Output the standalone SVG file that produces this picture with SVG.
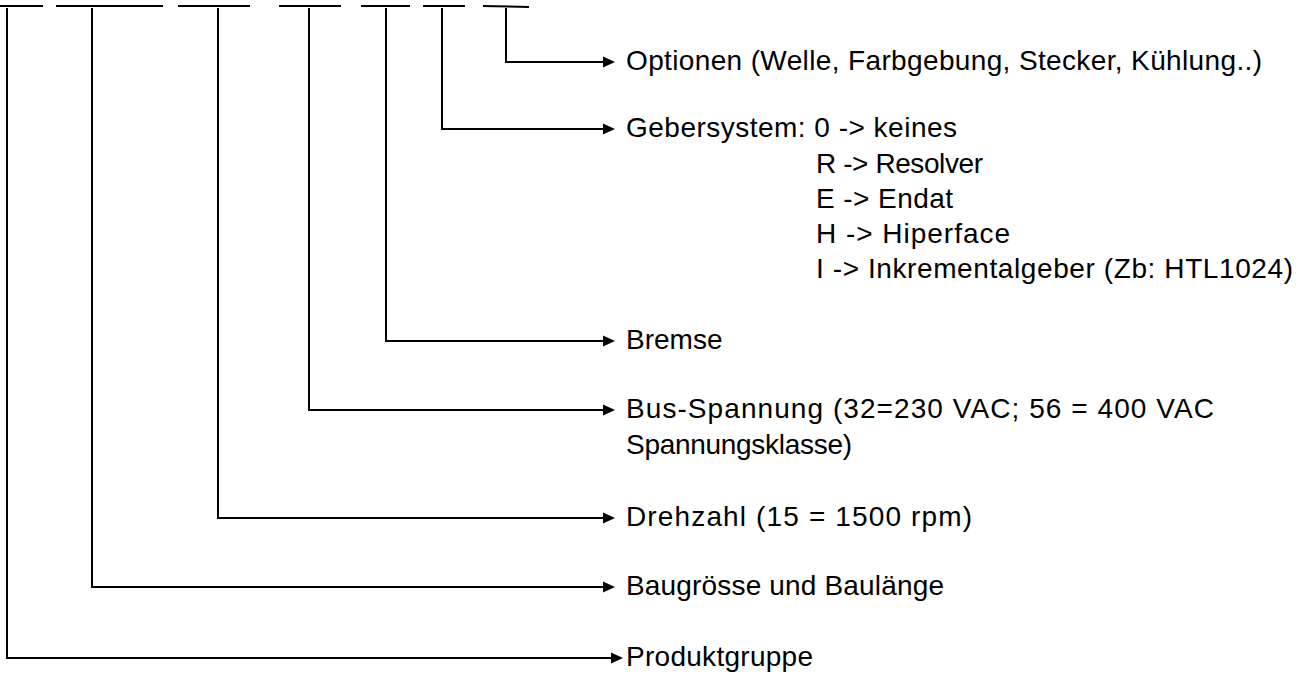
<svg xmlns="http://www.w3.org/2000/svg" width="1307" height="675" viewBox="0 0 1307 675">
<style>
  .ln { fill: none; stroke: #000; stroke-width: 2; }
  .lbl { font-family: "Liberation Sans", Arial, sans-serif; font-size: 28px; fill: #000; }
</style>
<defs>
  <marker id="arr" markerUnits="userSpaceOnUse" markerWidth="13" markerHeight="11" refX="5" refY="5.5" orient="auto" overflow="visible">
    <path d="M0,0 L12,5.5 L0,11 z" fill="#000"/>
  </marker>
</defs>
<rect width="1307" height="675" fill="#fff"/>
<g id="code-bars" class="ln">
  <line x1="0" y1="6" x2="43" y2="6"/>
  <line x1="56" y1="6" x2="163" y2="6"/>
  <line x1="178" y1="6" x2="250" y2="6"/>
  <line x1="279" y1="6" x2="341" y2="6"/>
  <line x1="361" y1="6" x2="410" y2="6"/>
  <line x1="423" y1="6" x2="465" y2="6"/>
  <line x1="483" y1="6" x2="529" y2="7"/>
</g>
<g id="connectors" class="ln">
  <path d="M506,8 V62 H608" marker-end="url(#arr)"/>
  <path d="M442,8 V129 H608" marker-end="url(#arr)"/>
  <path d="M386,8 V341 H608" marker-end="url(#arr)"/>
  <path d="M309,8 V410 H608" marker-end="url(#arr)"/>
  <path d="M218,8 V518 H608" marker-end="url(#arr)"/>
  <path d="M92,8 V587 H608" marker-end="url(#arr)"/>
  <path d="M7,8 V658 H616" marker-end="url(#arr)"/>
</g>
<g id="optionen">
  <text class="lbl" x="626" y="70" textLength="636" lengthAdjust="spacing">Optionen (Welle, Farbgebung, Stecker, Kühlung..)</text>
</g>
<g id="gebersystem">
  <text class="lbl" x="626" y="137" textLength="331" lengthAdjust="spacing">Gebersystem: 0 -&gt; keines</text>
  <text class="lbl" x="816" y="173" textLength="167" lengthAdjust="spacing">R -&gt; Resolver</text>
  <text class="lbl" x="816" y="208" textLength="137" lengthAdjust="spacing">E -&gt; Endat</text>
  <text class="lbl" x="816" y="243" textLength="194" lengthAdjust="spacing">H -&gt; Hiperface</text>
  <text class="lbl" x="816" y="278" textLength="477" lengthAdjust="spacing">I -&gt; Inkrementalgeber (Zb: HTL1024)</text>
</g>
<g id="bremse">
  <text class="lbl" x="626" y="349">Bremse</text>
</g>
<g id="bus-spannung">
  <text class="lbl" x="626" y="418" textLength="588" lengthAdjust="spacing">Bus-Spannung (32=230 VAC; 56 = 400 VAC</text>
  <text class="lbl" x="626" y="454" textLength="226" lengthAdjust="spacing">Spannungsklasse)</text>
</g>
<g id="drehzahl">
  <text class="lbl" x="626" y="526" textLength="346" lengthAdjust="spacing">Drehzahl (15 = 1500 rpm)</text>
</g>
<g id="baugroesse">
  <text class="lbl" x="626" y="595" textLength="318" lengthAdjust="spacing">Baugrösse und Baulänge</text>
</g>
<g id="produktgruppe">
  <text class="lbl" x="626" y="666" textLength="187" lengthAdjust="spacing">Produktgruppe</text>
</g>
</svg>
